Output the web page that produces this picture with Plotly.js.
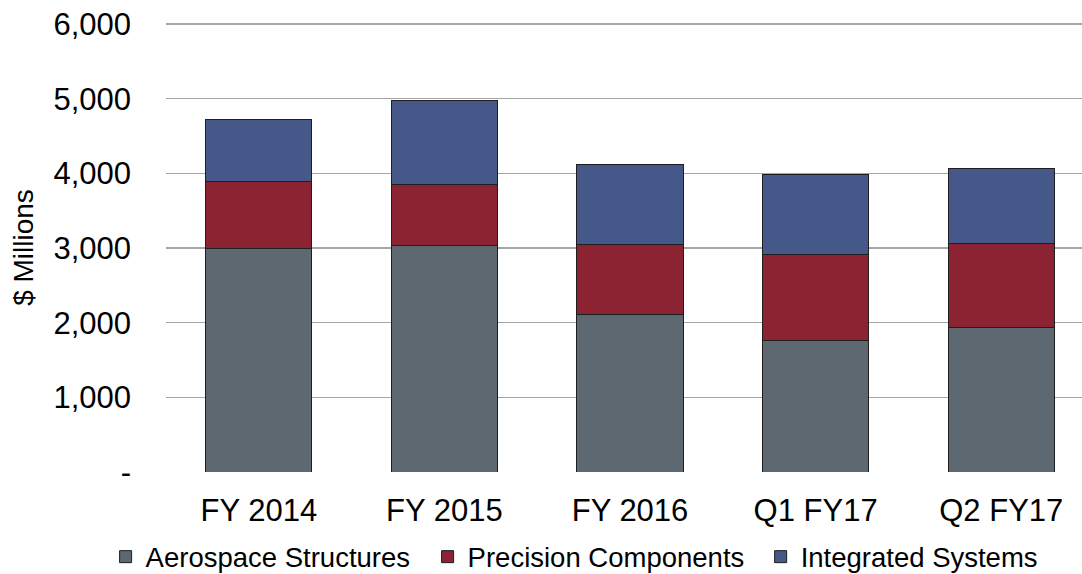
<!DOCTYPE html>
<html>
<head>
<meta charset="utf-8">
<script src="https://cdn.plot.ly/plotly-3.0.1.min.js"></script>
<style>html,body{margin:0;padding:0;background:#fff;}#chart{width:1082px;height:574px;}</style>
</head>
<body>
<div id="chart"></div>
<script>
const categories = ["FY 2014", "FY 2015", "FY 2016", "Q1 FY17", "Q2 FY17"];
const aerospaceStructures = [3000, 3032, 2116, 1764, 1942];
const precisionComponents = [889, 817, 930, 1156, 1121];
const integratedSystems = [830, 1134, 1074, 1062, 1008];
const yTickVals = [0, 1000, 2000, 3000, 4000, 5000, 6000];
const yTickText = ["-", "1,000", "2,000", "3,000", "4,000", "5,000", "6,000"];

const FONT = "Liberation Sans, Arial, sans-serif";
const barLine = {color: "#1e1e1e", width: 1};
const mk = (name, y, color, leg) => ({
  type: "bar", name: name, x: categories, y: y, legend: leg,
  marker: {color: color, line: barLine}, width: 0.572
});
const data = [
  mk("Aerospace Structures", aerospaceStructures, "#5E6870", "legend"),
  mk("Precision Components", precisionComponents, "#8B2332", "legend2"),
  mk("Integrated Systems", integratedSystems, "#46588A", "legend3")
];
const legBase = (x) => ({
  orientation: "h", xref: "container", x: x, xanchor: "left",
  yref: "container", y: 0.03, yanchor: "middle",
  font: {size: 27.5, family: FONT, color: "#000"},
  bgcolor: "rgba(0,0,0,0)", itemwidth: 30
});
const layout = {
  width: 1082, height: 574,
  margin: {l: 166, r: 0, t: 23, b: 102},
  barmode: "stack",
  paper_bgcolor: "#fff", plot_bgcolor: "#fff",
  font: {family: FONT, color: "#000"},
  showlegend: true,
  legend: legBase(0.0976),
  legend2: legBase(0.3952),
  legend3: legBase(0.7030),
  xaxis: {
    type: "category", range: [-0.5, 4.435],
    showgrid: false, zeroline: false, showline: false, ticks: "",
    tickfont: {size: 31, family: FONT, color: "#000"},
    ticklabelstandoff: 17
  },
  yaxis: {
    range: [0, 6015], tickvals: yTickVals, ticktext: yTickText,
    showgrid: true, gridcolor: "#A6A6A6", gridwidth: 1.3,
    zeroline: false, showline: false, ticks: "",
    tickfont: {size: 31, family: FONT, color: "#000"},
    ticklabelstandoff: 34,
    automargin: true,
    title: {text: "$ Millions", font: {size: 28, family: FONT, color: "#000"}, standoff: 11}
  },
  bargap: 0.428
};
Plotly.newPlot("chart", data, layout, {displayModeBar: false, staticPlot: true});
</script>
</body>
</html>
